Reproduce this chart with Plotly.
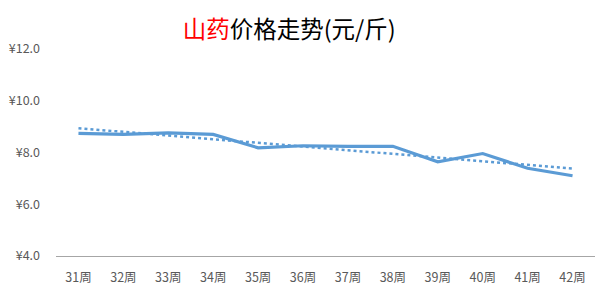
import numpy as np
import plotly.graph_objects as go

weeks = ["31周", "32周", "33周", "34周", "35周", "36周", "37周", "38周", "39周", "40周", "41周", "42周"]
prices = [8.74, 8.70, 8.76, 8.70, 8.18, 8.26, 8.24, 8.24, 7.64, 7.96, 7.39, 7.10]
y_ticks = [4, 6, 8, 10, 12]
y_tick_text = ["¥4.0", "¥6.0", "¥8.0", "¥10.0", "¥12.0"]

idx = np.arange(len(prices))
slope, intercept = np.polyfit(idx, prices, 1)
trend = list(slope * idx + intercept)

color = "#5B9BD5"
font = "Noto Sans CJK SC, Microsoft YaHei, sans-serif"

fig = go.Figure()
fig.add_trace(go.Scatter(x=weeks, y=prices, mode="lines",
                         line=dict(color=color, width=3.2), showlegend=False))
fig.add_trace(go.Scatter(x=weeks, y=trend, mode="lines",
                         line=dict(color=color, width=2.5, dash="dot"), showlegend=False))

fig.update_layout(
    width=600, height=300,
    margin=dict(l=56, r=5, t=49, b=44),
    paper_bgcolor="white", plot_bgcolor="white",
    font=dict(family=font, color="#595959", size=12),
    title=dict(text="<span style='color:#FF0000'>山药</span>价格走势(元/斤)",
               x=0.482, xanchor="center", y=0.9, yanchor="middle",
               font=dict(size=23.5, color="#000000", family=font)),
    xaxis=dict(showgrid=False, showline=True, linecolor="#A6A6A6", linewidth=1,
               range=[-0.5, len(weeks) - 0.5],
               ticks="", ticklabelstandoff=10, tickfont=dict(size=12.5, color="#595959")),
    yaxis=dict(range=[4, 12], tickvals=y_ticks, ticktext=y_tick_text,
               showgrid=False, zeroline=False, showline=False,
               ticklabelstandoff=15, tickfont=dict(size=12.5, color="#595959")),
)

fig.write_html("out.html")
